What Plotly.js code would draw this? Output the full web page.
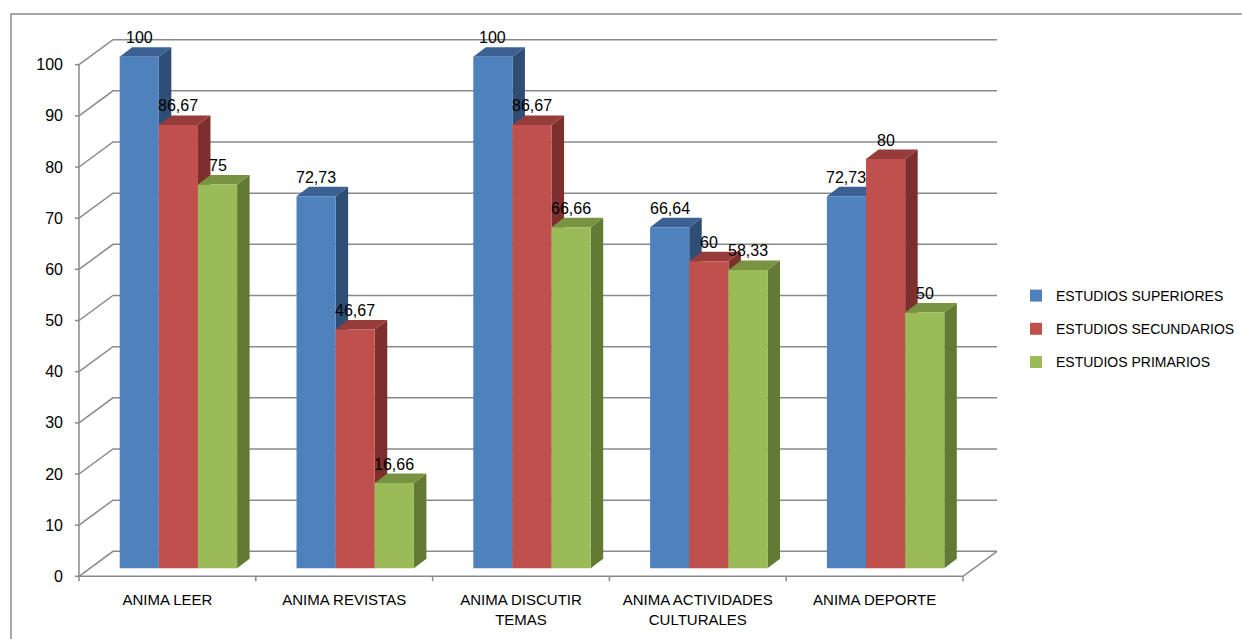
<!DOCTYPE html>
<html><head><meta charset="utf-8">
<script src="https://cdn.plot.ly/plotly-3.0.1.min.js"></script>
<style>html,body{margin:0;padding:0;background:#fff;overflow:hidden}#chart{width:1242px;height:639px}</style>
</head><body><div id="chart"></div>
<script>
// ---- data ----
const categories = ['ANIMA LEER', 'ANIMA REVISTAS', 'ANIMA DISCUTIR<br>TEMAS', 'ANIMA ACTIVIDADES<br>CULTURALES', 'ANIMA DEPORTE'];
const seriesNames = ['ESTUDIOS SUPERIORES', 'ESTUDIOS SECUNDARIOS', 'ESTUDIOS PRIMARIOS'];
const superiores = [100, 72.73, 100, 66.64, 72.73];
const secundarios = [86.67, 46.67, 86.67, 60, 80];
const primarios = [75, 16.66, 66.66, 58.33, 50];
const yTicks = [0, 10, 20, 30, 40, 50, 60, 70, 80, 90, 100];

// ---- styling ----
const frontColors = ['#4F81BD', '#C0504D', '#9BBB59'];
const topColors = ['#3B6193', '#963C3A', '#789341'];
const sideColors = ['#2F4E76', '#7D2F2D', '#637A35'];
const gridColor = '#8A8A8A';
const FONT = 'Liberation Sans, Arial, sans-serif';

// plot geometry (pixels)
const W = 1242, H = 639;
const M = {l: 70, r: 242, t: 30, b: 54, autoexpand: false};
const plotW = W - M.l - M.r, plotH = H - M.t - M.b;
const pxPerCat = 176.8, pxPerUnit = 5.116;
const catStartPx = 90;      // left edge of first category at bar plane
const zeroPx = 568.3;       // y pixel of value 0 at bar plane
const xr0 = -0.5 - (catStartPx - M.l) / pxPerCat;
const xRange = [xr0, xr0 + plotW / pxPerCat];
const yr1 = (zeroPx - M.t) / pxPerUnit;
const yRange = [yr1 - plotH / pxPerUnit, yr1];

// depth offsets (converted to data units)
const FX = -11 / pxPerCat, FY = -8 / pxPerUnit;     // front plane relative to bar plane
const BX = 23 / pxPerCat, BY = 17 / pxPerUnit;      // back wall relative to bar plane
const DX = 12.5 / pxPerCat, DY = 9.5 / pxPerUnit;   // bar depth
const bargap = 0.336;
const barW = (1 - bargap) / 3;

const series = [superiores, secundarios, primarios];
const idx = categories.map((_, i) => i);
const nCat = categories.length;

const traces = series.map((vals, s) => ({
  type: 'bar', x: idx, y: vals, name: seriesNames[s],
  legendgroup: 'g' + s,
  marker: {color: frontColors[s], line: {width: 0}},
  hoverinfo: 'skip'
}));

const shapes = [];
const line = {color: gridColor, width: 1.5};
const xL = -0.5, xR = nCat - 0.5;
// gridlines on back wall + side wall
yTicks.forEach(v => {
  shapes.push({type: 'path', layer: 'below', xref: 'x', yref: 'y', line: line,
    path: `M ${xL + FX} ${v + FY} L ${xL + BX} ${v + BY} L ${xR + BX} ${v + BY}`});
  // left tick marks
  shapes.push({type: 'line', layer: 'below', xref: 'x', yref: 'y', line: line,
    x0: xL + FX - 4 / pxPerCat, x1: xL + FX, y0: v + FY, y1: v + FY});
});
// front axis line and floor front edge
shapes.push({type: 'path', layer: 'below', xref: 'x', yref: 'y', line: line,
  path: `M ${xL + FX} ${yTicks[yTicks.length - 1] + FY} L ${xL + FX} ${FY} L ${xR + FX} ${FY} L ${xR + BX} ${BY}`});
// category tick marks
for (let k = 0; k <= nCat; k++) {
  shapes.push({type: 'line', layer: 'below', xref: 'x', yref: 'y', line: line,
    x0: k - 0.5 + FX, x1: k - 0.5 + FX, y0: FY, y1: FY - 5 / pxPerUnit});
}
// 3D faces of the bars
idx.forEach(i => {
  series.forEach((vals, s) => {
    const v = vals[i];
    const xl = i + (s - 1) * barW - barW / 2, xr = xl + barW;
    shapes.push({type: 'path', layer: 'below', xref: 'x', yref: 'y',
      fillcolor: sideColors[s], line: {width: 0},
      path: `M ${xr} 0 L ${xr} ${v} L ${xr + DX} ${v + DY} L ${xr + DX} ${DY} Z`});
    shapes.push({type: 'path', layer: 'below', xref: 'x', yref: 'y',
      fillcolor: topColors[s], line: {width: 0},
      path: `M ${xl} ${v} L ${xl + DX} ${v + DY} L ${xr + DX} ${v + DY} L ${xr} ${v} Z`});
  });
});
// outer chart border
shapes.push({type: 'rect', xref: 'paper', yref: 'paper', layer: 'above',
  x0: (11 - M.l) / plotW, x1: 2, y0: -1, y1: (H - M.b - 14) / plotH,
  line: {color: '#8C8C8C', width: 1.5}, fillcolor: 'rgba(0,0,0,0)'});

const annotations = [];
idx.forEach(i => {
  series.forEach((vals, s) => {
    const v = vals[i];
    annotations.push({x: i + (s - 1) * barW, y: v, xref: 'x', yref: 'y',
      text: String(v).replace('.', ','), showarrow: false,
      yanchor: 'middle', yshift: 19, font: {size: 16, color: '#000', family: FONT}});
  });
});

const layout = {
  width: W, height: H, margin: M,
  paper_bgcolor: '#fff', plot_bgcolor: 'rgba(0,0,0,0)',
  font: {family: FONT, color: '#000'},
  barmode: 'group', bargap: bargap, bargroupgap: 0,
  showlegend: true,
  legend: {x: (1016 - M.l) / plotW, xanchor: 'left', y: (H - M.b - 329) / plotH, yanchor: 'middle',
    font: {size: 14, family: FONT, color: '#000'}, tracegroupgap: 12, bgcolor: 'rgba(0,0,0,0)'},
  xaxis: {range: xRange, tickvals: idx.map(i => i + FX), ticktext: categories,
    showgrid: false, zeroline: false, showline: false, ticks: '', ticklabelstandoff: 4,
    tickfont: {size: 15, family: FONT, color: '#000'}, fixedrange: true},
  yaxis: {range: yRange, tickvals: yTicks.map(t => t + FY), ticktext: yTicks.map(String),
    showgrid: false, zeroline: false, showline: false, ticks: '', ticklabelstandoff: 6,
    tickfont: {size: 16, family: FONT, color: '#000'}, fixedrange: true},
  shapes: shapes, annotations: annotations
};
Plotly.newPlot('chart', traces, layout, {displayModeBar: false, staticPlot: true});
</script></body></html>
